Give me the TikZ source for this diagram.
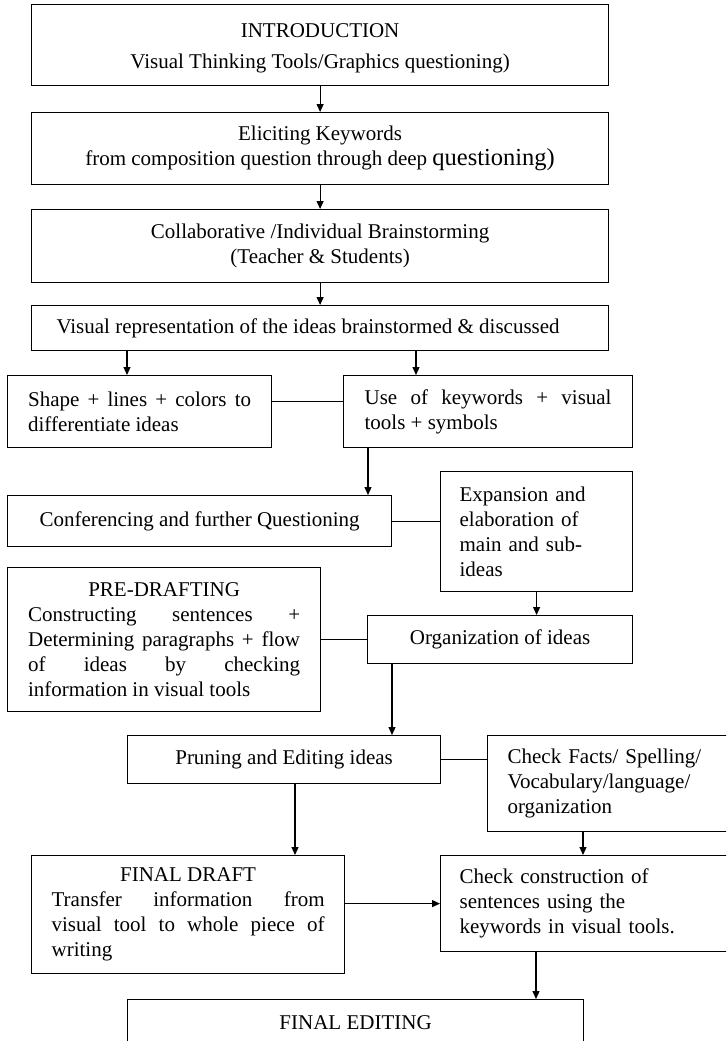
\documentclass[tikz,border=0pt]{standalone}
\usepackage{fontspec}
\setmainfont{Liberation Serif}
\usetikzlibrary{arrows.meta}
\begin{document}
\begin{tikzpicture}[x=1pt,y=-1pt,
  box/.style={draw, line width=1.2pt, inner sep=0pt, anchor=north west,
    font=\fontsize{21}{25}\selectfont},
  arr/.style={line width=1.2pt, -{Triangle[length=8pt,width=7pt]}},
  link/.style={line width=1.2pt}]
\useasboundingbox (0,0) rectangle (726,1041);
\clip (0,0) rectangle (726,1041);
\fill[white] (0,0) rectangle (726,1041);

\node[box, minimum width=577pt, minimum height=81pt, align=center] (intro) at (31,4)
  {\rule{0pt}{20pt}INTRODUCTION\\[6pt]Visual Thinking Tools/Graphics questioning)};
\node[box, minimum width=577pt, minimum height=72pt, align=center] (elic) at (31,112)
  {Eliciting Keywords\\from composition question through deep {\fontsize{24.5}{25}\selectfont questioning)}};
\node[box, minimum width=577pt, minimum height=73pt, align=center] (collab) at (31,209)
  {Collaborative /Individual Brainstorming\\(Teacher \& Students)};
\node[box, minimum width=577pt, minimum height=45pt] (visual) at (31,305)
  {Visual representation of the ideas brainstormed \& discussed\kern24pt};
\node[box, minimum width=264pt, minimum height=72pt, text width=223pt, align=justify] (shape) at (7,375)
  {Shape + lines + colors to\linebreak differentiate ideas};
\node[box, minimum width=289pt, minimum height=72pt, text width=247pt, align=justify] (use) at (343,375)
  {Use of keywords + visual\linebreak tools + symbols};
\node[box, minimum width=384pt, minimum height=51pt] (conf) at (7,495)
  {Conferencing and further Questioning};
\node[box, minimum width=192pt, minimum height=120pt, text width=154pt, align=left] (exp) at (440,471)
  {Expansion and\\elaboration of\\main and sub-\\ideas};
\node[box, minimum width=313pt, minimum height=144pt, text width=272pt, align=justify] (pre) at (7,567)
  {\hfill PRE-DRAFTING\hfill\mbox{}\linebreak Constructing sentences +\linebreak Determining paragraphs + flow\linebreak of ideas by checking\linebreak information in visual tools};
\node[box, minimum width=265pt, minimum height=48pt] (org) at (367,615)
  {Organization of ideas};
\node[box, minimum width=313pt, minimum height=48pt] (prune) at (127,735)
  {Pruning and Editing ideas};
\node[box, minimum width=243pt, minimum height=96pt, text width=203pt, align=left] (facts) at (487,735)
  {Check Facts/ Spelling/\\Vocabulary/language/\\organization};
\node[box, minimum width=313pt, minimum height=118pt, text width=273pt, align=justify] (fd) at (31,855)
  {\hfill FINAL DRAFT\hfill\mbox{}\linebreak Transfer information from\linebreak visual tool to whole piece of\linebreak writing};
\node[box, minimum width=290pt, minimum height=96pt, text width=252pt, align=left] (cons) at (440,855)
  {Check construction of\\sentences using the\\keywords in visual tools.};
\node[box, minimum width=456pt, inner ysep=16pt, text depth=60pt] (fe) at (127,999)
  {FINAL EDITING};

% vertical arrows
\draw[arr] (intro.south) -- (elic.north);
\draw[arr] (elic.south) -- (collab.north);
\draw[arr] (collab.south) -- (visual.north);
\path ([xshift=96pt]visual.south west) coordinate (p4);
\draw[arr] (p4) -- (p4 |- shape.north);
\path ([xshift=385pt]visual.south west) coordinate (p5);
\draw[arr] (p5) -- (p5 |- use.north);
\path ([xshift=25pt]use.south west) coordinate (p6);
\draw[arr] (p6) -- (p6 |- conf.north);
\draw[arr] (exp.south) -- (exp.south |- org.north);
\path ([xshift=25pt]org.south west) coordinate (p8);
\draw[arr] (p8) -- (p8 |- prune.north);
\path ([xshift=168pt]prune.south west) coordinate (p9);
\draw[arr] (p9) -- (p9 |- fd.north);
\path ([xshift=96pt]facts.south west) coordinate (p10);
\draw[arr] (p10) -- (p10 |- cons.north);
\path ([xshift=96pt]cons.south west) coordinate (p11);
\draw[arr] (p11) -- (p11 |- fe.north);

% horizontal links
\draw[link] ([yshift=10pt]shape.east) -- ([yshift=10pt]shape.east -| use.west);
\draw[link] (conf.east) -- (conf.east -| exp.west);
\draw[link] (pre.east) -- (org.west);
\draw[link] (prune.east) -- (prune.east -| facts.west);
\draw[arr] (cons.west -| fd.east) -- (cons.west);
\end{tikzpicture}
\end{document}
